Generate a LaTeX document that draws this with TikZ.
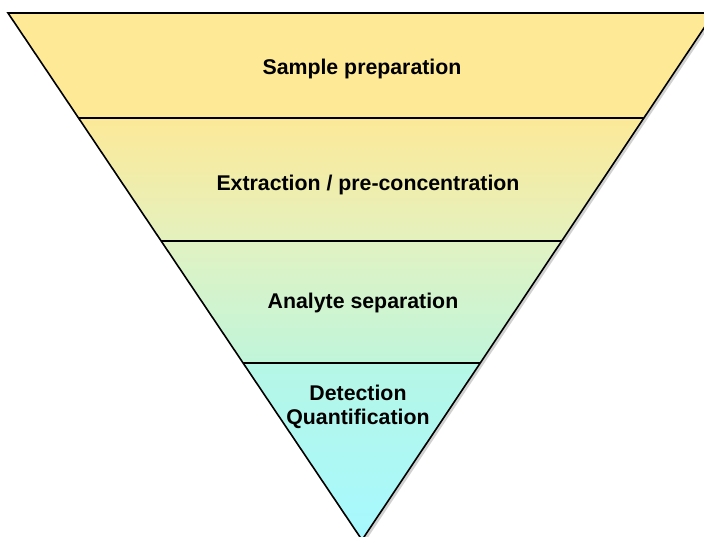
\documentclass[tikz,border=0pt]{standalone}
\usepackage{fontspec}
\setmainfont{Liberation Sans}
\usetikzlibrary{calc}
\tikzset{
  lbl/.style={font=\fontsize{21.3}{24}\selectfont\bfseries, align=center, text=black, inner sep=0pt},
  edge/.style={line width=1.6pt, black, line join=miter},
}
\begin{document}
\begin{tikzpicture}[x=1pt,y=-1pt]
\useasboundingbox (0,0) rectangle (704,537);
\coordinate (TL) at (8,13);
\coordinate (TR) at (714,13);
\coordinate (B) at (362,540);
\coordinate (L1) at ($(TL)!0.1992!(B)$);
\coordinate (R1) at ($(TR)!0.1992!(B)$);
\coordinate (L2) at ($(TL)!0.4325!(B)$);
\coordinate (R2) at ($(TR)!0.4325!(B)$);
\coordinate (L3) at ($(TL)!0.6641!(B)$);
\coordinate (R3) at ($(TR)!0.6641!(B)$);
% shadow
\fill[black, opacity=0.18] ([shift={(2.5,2.5)}]TL) -- ([shift={(2.5,2.5)}]TR) -- ([shift={(2.5,2.5)}]B) -- cycle;
% sections
\shade[top color={rgb,255:red,253;green,233;blue,150}, bottom color={rgb,255:red,253;green,233;blue,150}] (TL) -- (TR) -- (R1) -- (L1) -- cycle;
\shade[top color={rgb,255:red,252;green,233;blue,152}, bottom color={rgb,255:red,228;green,241;blue,190}] (L1) -- (R1) -- (R2) -- (L2) -- cycle;
\shade[top color={rgb,255:red,225;green,242;blue,194}, bottom color={rgb,255:red,192;green,245;blue,218}] (L2) -- (R2) -- (R3) -- (L3) -- cycle;
\shade[top color={rgb,255:red,182;green,247;blue,230}, bottom color={rgb,255:red,166;green,248;blue,255}] (L3) -- (R3) -- (B) -- cycle;
% dividers
\draw[edge] (L1) -- (R1);
\draw[edge] (L2) -- (R2);
\draw[edge] (L3) -- (R3);
% outline
\draw[edge] (TL) -- (TR) -- (B) -- cycle;
% labels
\node[lbl] (s1) at (362,69) {Sample preparation};
\node[lbl] (s2) at (368,185) {Extraction / pre-concentration};
\node[lbl] (s3) at (363,303) {Analyte separation};
\node[lbl] (s4) at (358,407) {Detection\\Quantification};
\end{tikzpicture}
\end{document}
